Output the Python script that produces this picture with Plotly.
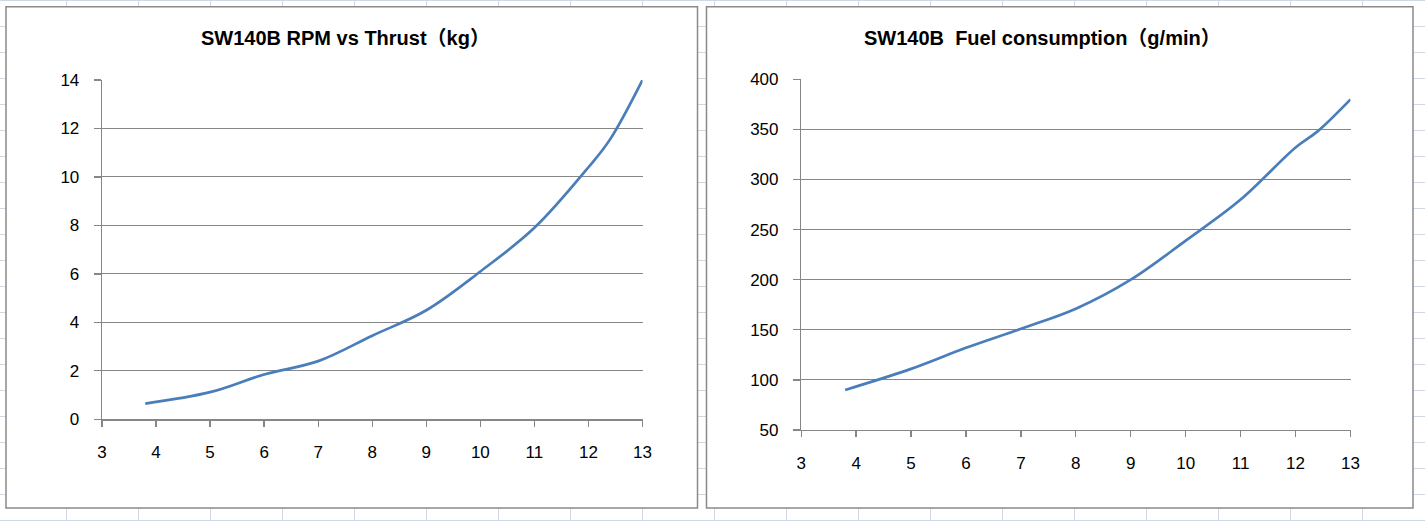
import plotly.graph_objects as go

# ---- data ----
rpm = [3.8, 5, 6, 7, 8, 9, 10, 11, 12, 12.4, 13]
thrust_kg = [0.65, 1.12, 1.85, 2.4, 3.45, 4.5, 6.1, 7.9, 10.4, 11.55, 14.0]
fuel_g_min = [90, 111, 132, 151, 171, 200, 239, 280, 332, 348, 380]

x_ticks = [3, 4, 5, 6, 7, 8, 9, 10, 11, 12, 13]
thrust_ticks = [0, 2, 4, 6, 8, 10, 12, 14]
fuel_ticks = [50, 100, 150, 200, 250, 300, 350, 400]

title_left = "SW140B RPM vs Thrust（kg）"
title_right = "SW140B\u00a0 Fuel consumption（g/min）"

W, H = 1425, 521
FONT = "Liberation Sans, Arial, Noto Sans CJK SC, sans-serif"
LINE_BLUE = "#4a7ebb"
AXIS_GRAY = "#868686"
SHEET_GRID = "#d0d7e5"


def px(x):
    return x / W


def py(y):
    return 1 - y / H


fig = go.Figure()
fig.add_trace(go.Scatter(x=rpm, y=thrust_kg, mode="lines", xaxis="x", yaxis="y",
                         line=dict(color=LINE_BLUE, width=2.7, shape="spline", smoothing=1.0),
                         hoverinfo="skip", showlegend=False))
fig.add_trace(go.Scatter(x=rpm, y=fuel_g_min, mode="lines", xaxis="x2", yaxis="y2",
                         line=dict(color=LINE_BLUE, width=2.7, shape="spline", smoothing=1.0),
                         hoverinfo="skip", showlegend=False))

# spreadsheet background grid, then the two white chart boxes over it
shapes = []
for k in range(0, 21):
    y = 26 * k + 0.5
    shapes.append(dict(type="line", xref="paper", yref="paper", x0=0, x1=1,
                       y0=py(y), y1=py(y), line=dict(color=SHEET_GRID, width=1), layer="below"))
for k in range(0, 20):
    x = 66.5 + 72.0 * k
    shapes.append(dict(type="line", xref="paper", yref="paper", x0=px(x), x1=px(x),
                       y0=0, y1=1, line=dict(color=SHEET_GRID, width=1), layer="below"))
for (x0, x1) in [(6, 697.5), (706.5, 1413)]:
    shapes.append(dict(type="rect", xref="paper", yref="paper", x0=px(x0), x1=px(x1),
                       y0=py(508), y1=py(6.8), fillcolor="white",
                       line=dict(color="#8a8a8a", width=1.5), layer="below"))

tickfont = dict(family=FONT, size=17, color="black")

xcommon = dict(range=[3, 13], tickvals=x_ticks, showgrid=False, zeroline=False,
               showline=True, linecolor=AXIS_GRAY, linewidth=1.3,
               ticks="outside", ticklen=6, tickcolor=AXIS_GRAY, tickwidth=1.3,
               tickfont=tickfont, ticklabelstandoff=11, fixedrange=True, automargin=False)
ycommon = dict(showgrid=True, gridcolor=AXIS_GRAY, gridwidth=1, zeroline=False,
               showline=True, linecolor=AXIS_GRAY, linewidth=1.3,
               ticks="outside", ticklen=7, tickcolor=AXIS_GRAY, tickwidth=1.3,
               tickfont=tickfont, ticklabelstandoff=11, fixedrange=True, automargin=False)

fig.update_layout(
    width=W, height=H, autosize=False,
    margin=dict(l=0, r=0, t=0, b=0, pad=0),
    paper_bgcolor="white", plot_bgcolor="rgba(0,0,0,0)",
    showlegend=False, hovermode=False,
    font=dict(family=FONT),
    shapes=shapes,
    xaxis=dict(domain=[px(102), px(642.5)], anchor="y", **xcommon),
    yaxis=dict(domain=[py(419.3), py(80)], anchor="x", range=[0, 14],
               tickvals=thrust_ticks, **ycommon),
    xaxis2=dict(domain=[px(801.2), px(1350.5)], anchor="y2", **xcommon),
    yaxis2=dict(domain=[py(430), py(79.3)], anchor="x2", range=[50, 400],
                tickvals=fuel_ticks, **ycommon),
    annotations=[
        dict(text="<b>%s</b>" % title_left, xref="paper", yref="paper",
             x=px(345), y=py(38), xanchor="center", yanchor="middle", showarrow=False,
             font=dict(family=FONT, size=20, color="black")),
        dict(text="<b>%s</b>" % title_right, xref="paper", yref="paper",
             x=px(1042), y=py(38), xanchor="center", yanchor="middle", showarrow=False,
             font=dict(family=FONT, size=20, color="black")),
    ],
)

fig.write_html(
    "out.html",
    config={"displayModeBar": False, "staticPlot": True},
    post_script="document.body.style.margin='0';document.body.style.overflow='hidden';",
)
